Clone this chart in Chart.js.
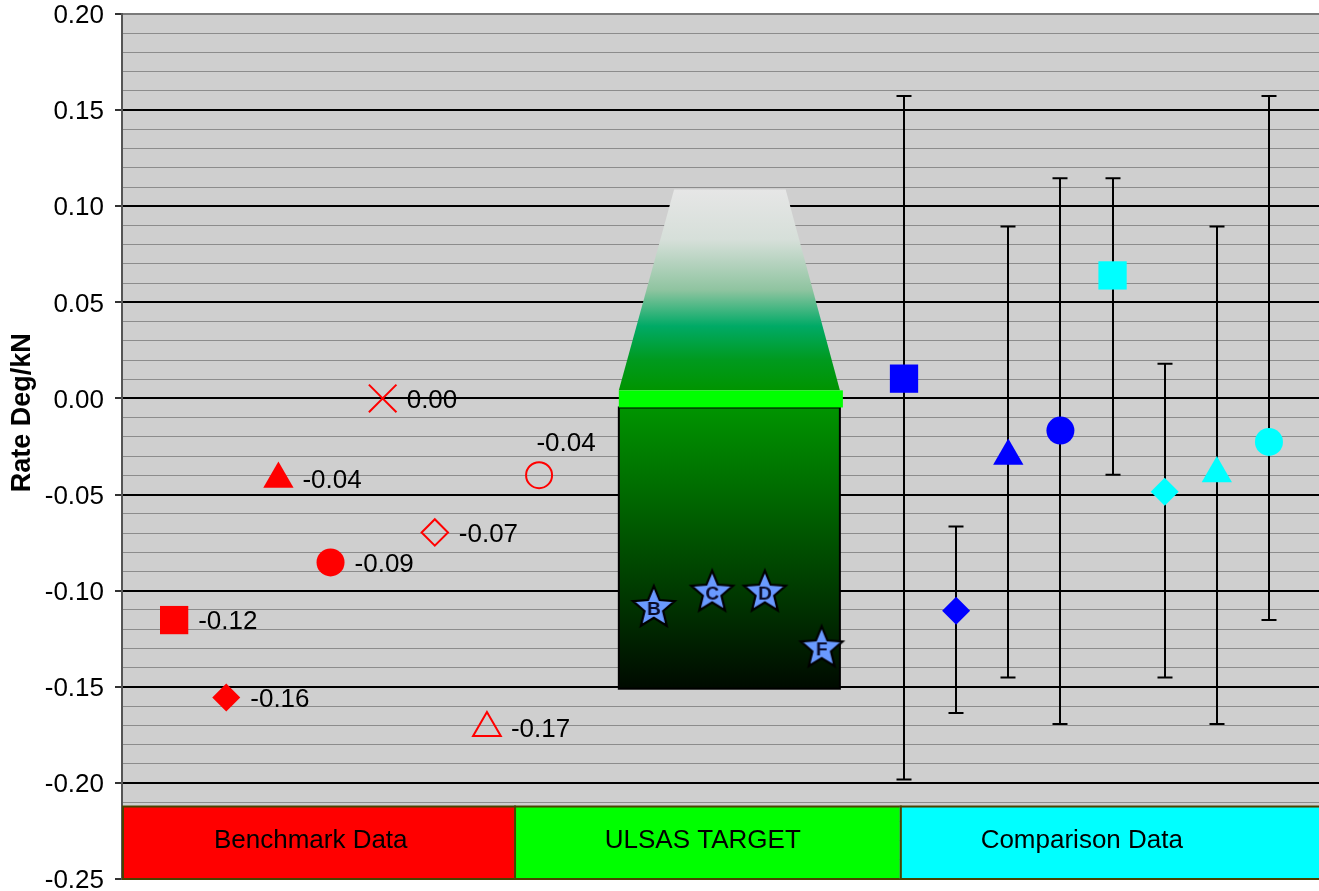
<!DOCTYPE html>
<html>
<head>
<meta charset="utf-8">
<script src="https://cdn.jsdelivr.net/npm/chart.js@4.4.1/dist/chart.umd.min.js"></script>
<style>
  html, body { margin: 0; padding: 0; background: #ffffff; }
  #wrap { width: 1319px; height: 891px; position: relative; }
</style>
</head>
<body>
<div id="wrap"><canvas id="chart"></canvas></div>
<script>
// ---- Benchmark vehicles (red) ----
const benchX = [1, 2, 3, 4, 5, 6, 7, 8];
const benchY = [-0.1153, -0.1556, -0.0419, -0.0853, 0.0, -0.0697, -0.1714, -0.0399];
const benchStyle = ['rect', 'rectRot', 'triangle', 'circle', 'crossRot', 'rectRot', 'triangle', 'circle'];
const benchFilled = [true, true, true, true, false, false, false, false];

// ---- ULSAS target designs (stars) ----
const targetX = [10.20, 11.32, 12.33, 13.42];
const targetY = [-0.109, -0.101, -0.101, -0.130];
const targetNames = ['B', 'C', 'D', 'F'];

// ---- Target zone ----
const targetSpan = [9.53, 13.77];          // x extent of the target block
const targetRange = [-0.151, -0.0047];     // dark target box
const targetLine = [-0.0047, 0.0042];      // bright green line
const glowTop = 0.1087;                    // top of the glow above the line
const glowTopSpan = [10.59, 12.73];

// ---- Comparison vehicles with ranges ----
const compX = [15, 16, 17, 18, 19, 20, 21, 22];
const compY = [0.0103, -0.1105, -0.0300, -0.0167, 0.0640, -0.0486, -0.0391, -0.0226];
const compHigh = [0.1573, -0.0666, 0.0895, 0.1146, 0.1146, 0.0180, 0.0895, 0.1573];
const compLow = [-0.1982, -0.1637, -0.1452, -0.1693, -0.0397, -0.1452, -0.1693, -0.1152];
const compStyle = ['rect', 'rectRot', 'triangle', 'circle', 'rect', 'rectRot', 'triangle', 'circle'];
const compGroup = ['blue', 'blue', 'blue', 'blue', 'cyan', 'cyan', 'cyan', 'cyan'];

// ---- Category bands along the bottom ----
const bandNames = ['Benchmark Data', 'ULSAS TARGET', 'Comparison Data'];
const bandEdges = [0, 7.52, 14.92, 22.96];
const bandLabelX = [3.62, 11.14, 18.41];
const bandRange = [-0.25, -0.2123];

// ---- Value axis ----
const yTickLabels = ['0.20', '0.15', '0.10', '0.05', '0.00', '-0.05', '-0.10', '-0.15', '-0.20', '-0.25'];
const yMax = 0.20, yMin = -0.25, yMinorStep = 0.01;
const xMin = 0, xMax = 22.96;

const FONT = "'Liberation Sans', Arial, Helvetica, sans-serif";
const RED = '#ff0000', BLUE = '#0000ff', CYAN = '#00ffff';
const groupColor = { blue: BLUE, cyan: CYAN };

function sizeFor(style, filled) {
  switch (style) {
    case 'rect': return 20;
    case 'rectRot': return filled ? 14 : 13.2;
    case 'triangle': return filled ? 17.5 : 16;
    case 'circle': return filled ? 14 : 13;
    case 'crossRot': return 19.5;
  }
  return 14;
}

// five-pointed star marker with a letter in it
function starMarker(letter) {
  const c = document.createElement('canvas');
  c.width = 52; c.height = 52;
  const g = c.getContext('2d');
  const cx = 26, cy = 26, R = 22, r = 9.8;
  g.beginPath();
  for (let k = 0; k < 10; k++) {
    const a = -Math.PI / 2 + k * Math.PI / 5;
    const rad = k % 2 === 0 ? R : r;
    const px = cx + Math.cos(a) * rad, py = cy + Math.sin(a) * rad;
    if (k === 0) g.moveTo(px, py); else g.lineTo(px, py);
  }
  g.closePath();
  g.fillStyle = '#6a9aff';
  g.fill();
  g.lineWidth = 2.2;
  g.strokeStyle = '#000000';
  g.lineJoin = 'miter';
  g.stroke();
  g.fillStyle = '#0a0a28';
  g.font = 'bold 19px ' + FONT;
  g.textAlign = 'center';
  g.textBaseline = 'middle';
  g.fillText(letter, cx, cy + 2);
  return c;
}

const plotBackground = {
  id: 'plotBackground',
  beforeDraw(chart) {
    const { ctx, chartArea: a } = chart;
    ctx.save();
    ctx.fillStyle = '#cfcfcf';
    ctx.fillRect(a.left, a.top, a.right - a.left, a.bottom - a.top);
    ctx.restore();
  }
};

const zonesAndRanges = {
  id: 'zonesAndRanges',
  beforeDatasetsDraw(chart) {
    const { ctx } = chart;
    const x = chart.scales.x, y = chart.scales.y;
    ctx.save();

    // glow above the target line
    const gx0 = x.getPixelForValue(targetSpan[0]), gx1 = x.getPixelForValue(targetSpan[1]);
    const tx0 = x.getPixelForValue(glowTopSpan[0]), tx1 = x.getPixelForValue(glowTopSpan[1]);
    const gTop = y.getPixelForValue(glowTop), gBot = y.getPixelForValue(targetLine[1]);
    const glow = ctx.createLinearGradient(0, gTop, 0, gBot);
    glow.addColorStop(0.00, '#e6e6e6');
    glow.addColorStop(0.25, '#d6dfd9');
    glow.addColorStop(0.50, '#8fc4a0');
    glow.addColorStop(0.68, '#00aa66');
    glow.addColorStop(0.85, '#009a1e');
    glow.addColorStop(1.00, '#009400');
    ctx.beginPath();
    ctx.moveTo(tx0, gTop);
    ctx.lineTo(tx1, gTop);
    ctx.lineTo(gx1, gBot);
    ctx.lineTo(gx0, gBot);
    ctx.closePath();
    ctx.fillStyle = glow;
    ctx.fill();

    // dark target box
    const bTop = y.getPixelForValue(targetRange[1]), bBot = y.getPixelForValue(targetRange[0]);
    const boxGrad = ctx.createLinearGradient(0, bTop, 0, bBot);
    boxGrad.addColorStop(0, '#009400');
    boxGrad.addColorStop(1, '#000a00');
    ctx.fillStyle = boxGrad;
    ctx.fillRect(gx0, bTop, gx1 - gx0, bBot - bTop);
    ctx.lineWidth = 2;
    ctx.strokeStyle = '#000000';
    ctx.strokeRect(gx0, bTop, gx1 - gx0, bBot - bTop);

    // bright target line
    const lTop = y.getPixelForValue(targetLine[1]), lBot = y.getPixelForValue(targetLine[0]);
    ctx.fillStyle = '#00ff00';
    ctx.fillRect(gx0, lTop, gx1 - gx0 + 3, lBot - lTop);

    // category bands
    const colors = [RED, '#00ff00', CYAN];
    const bt = y.getPixelForValue(bandRange[1]), bb = y.getPixelForValue(bandRange[0]);
    for (let i = 0; i < bandNames.length; i++) {
      const l = x.getPixelForValue(bandEdges[i]), r = x.getPixelForValue(bandEdges[i + 1]);
      ctx.fillStyle = colors[i];
      ctx.fillRect(l, bt, r - l, bb - bt);
      ctx.lineWidth = 2;
      ctx.strokeStyle = '#4a4200';
      ctx.strokeRect(l + 1, bt, r - l, bb - bt);
      ctx.fillStyle = '#000000';
      ctx.font = '26px ' + FONT;
      ctx.textAlign = 'center';
      ctx.textBaseline = 'middle';
      ctx.fillText(bandNames[i], x.getPixelForValue(bandLabelX[i]), (bt + bb) / 2 - 2);
    }

    // range bars for comparison vehicles
    ctx.strokeStyle = '#000000';
    ctx.lineWidth = 2;
    for (let i = 0; i < compX.length; i++) {
      const px = Math.round(x.getPixelForValue(compX[i]));
      const hi = y.getPixelForValue(compHigh[i]), lo = y.getPixelForValue(compLow[i]);
      ctx.beginPath();
      ctx.moveTo(px, hi); ctx.lineTo(px, lo);
      ctx.moveTo(px - 7.5, hi); ctx.lineTo(px + 7.5, hi);
      ctx.moveTo(px - 7.5, lo); ctx.lineTo(px + 7.5, lo);
      ctx.stroke();
    }
    ctx.restore();
  }
};

const valueLabels = {
  id: 'valueLabels',
  afterDatasetsDraw(chart) {
    const { ctx } = chart;
    const meta = chart.getDatasetMeta(0);
    ctx.save();
    ctx.fillStyle = '#000000';
    ctx.font = '26px ' + FONT;
    ctx.textBaseline = 'middle';
    meta.data.forEach((pt, i) => {
      const txt = benchY[i].toFixed(2);
      if (i === 7) {
        ctx.textAlign = 'center';
        ctx.fillText(txt, pt.x + 27, pt.y - 31);
      } else {
        ctx.textAlign = 'left';
        ctx.fillText(txt, pt.x + 24, pt.y + 2);
      }
    });
    ctx.restore();
  }
};

const axisTitle = {
  id: 'axisTitle',
  afterDraw(chart) {
    const { ctx, chartArea: a } = chart;
    ctx.save();
    ctx.translate(23, a.top + (a.bottom - a.top) * 0.461);
    ctx.rotate(-Math.PI / 2);
    ctx.fillStyle = '#000000';
    ctx.font = 'bold 27px ' + FONT;
    ctx.textAlign = 'center';
    ctx.textBaseline = 'middle';
    ctx.fillText('Rate Deg/kN', 0, 0);
    ctx.restore();
  }
};

const hundredths = v => Math.round(v * 100);

new Chart(document.getElementById('chart'), {
  type: 'scatter',
  data: {
    datasets: [
      {
        label: 'Benchmark',
        data: benchX.map((x, i) => ({ x, y: benchY[i] })),
        pointStyle: benchStyle,
        pointRadius: benchStyle.map((s, i) => sizeFor(s, benchFilled[i])),
        pointBackgroundColor: benchFilled.map(f => f ? RED : 'rgba(0,0,0,0)'),
        pointBorderColor: RED,
        pointBorderWidth: benchFilled.map(f => f ? 0 : 2),
      },
      {
        label: 'ULSAS',
        data: targetX.map((x, i) => ({ x, y: targetY[i] })),
        pointStyle: targetNames.map(starMarker),
        pointRadius: 22,
      },
      {
        label: 'Comparison',
        data: compX.map((x, i) => ({ x, y: compY[i] })),
        pointStyle: compStyle,
        pointRadius: compStyle.map(s => sizeFor(s, true)),
        pointBackgroundColor: compGroup.map(g => groupColor[g]),
        pointBorderColor: compGroup.map(g => groupColor[g]),
        pointBorderWidth: 0,
      }
    ]
  },
  options: {
    responsive: true,
    maintainAspectRatio: false,
    animation: false,
    events: [],
    layout: { autoPadding: false, padding: { top: 14, bottom: 12, left: 0, right: 0 } },
    plugins: { legend: { display: false }, tooltip: { enabled: false } },
    scales: {
      x: { type: 'linear', min: xMin, max: xMax, display: false },
      y: {
        type: 'linear',
        min: yMin,
        max: yMax,
        afterBuildTicks(scale) {
          const ticks = [];
          for (let k = hundredths(yMin); k <= hundredths(yMax); k += hundredths(yMinorStep)) {
            ticks.push({ value: k / 100 });
          }
          scale.ticks = ticks;
        },
        afterFit(scale) {
          scale.width = 122;
          scale.paddingTop = 0;
          scale.paddingBottom = 0;
        },
        border: { display: true, color: '#555555', width: 2 },
        grid: {
          drawOnChartArea: true,
          drawTicks: true,
          tickLength: 7,
          color: c => {
            const k = hundredths(c.tick.value);
            if (k === hundredths(yMax)) return '#7a7a7a';
            return k % 5 === 0 ? '#000000' : '#8c8c8c';
          },
          lineWidth: c => (hundredths(c.tick.value) % 5 === 0 ? 2 : 1),
          tickColor: c => (hundredths(c.tick.value) % 5 === 0 ? '#333333' : 'rgba(0,0,0,0)'),
          tickWidth: 2,
        },
        ticks: {
          autoSkip: false,
          padding: 11,
          labelOffset: 2,
          color: '#000000',
          font: { family: FONT, size: 26, lineHeight: 0.9 },
          callback: v => {
            const k = hundredths(v);
            return k % 5 === 0 ? yTickLabels[(hundredths(yMax) - k) / 5] : '';
          }
        }
      }
    }
  },
  plugins: [plotBackground, zonesAndRanges, valueLabels, axisTitle]
});
</script>
</body>
</html>
